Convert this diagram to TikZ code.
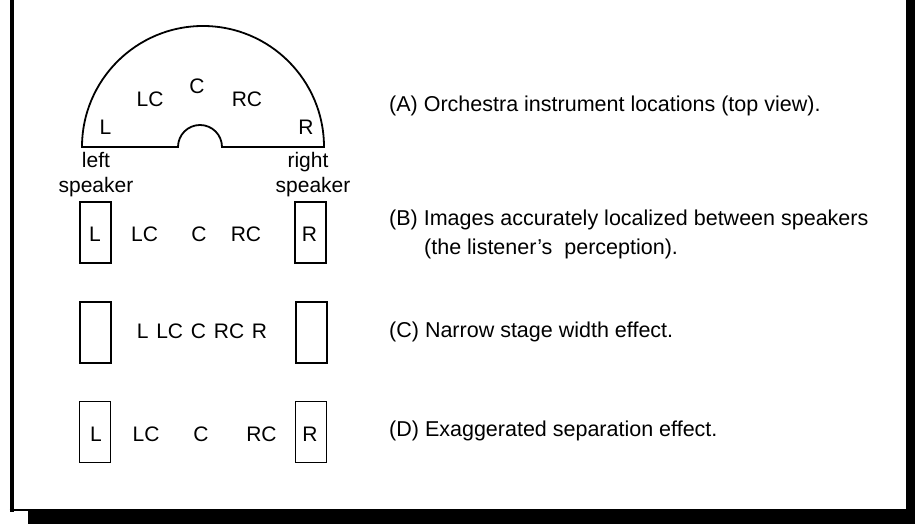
\documentclass[tikz,border=0pt]{standalone}
\usepackage{fontspec}
\setmainfont{Liberation Sans}
\begin{document}
\begin{tikzpicture}[x=1pt,y=1pt,
  lbl/.style={inner sep=0pt,anchor=base,font=\fontsize{21}{25}\selectfont},
  capt/.style={inner sep=0pt,anchor=base west,font=\fontsize{21.5}{26}\selectfont},
  spkbox/.style={draw,line width=1.6pt,inner sep=0pt,minimum width=31pt,minimum height=61pt},
  stage/.style={line width=1.8pt}]
\useasboundingbox (0,0) rectangle (915,524);
% frame and shadow
\fill (906,0) rectangle (915,524);
\fill (28,0) rectangle (915,13);
\draw[line width=4pt] (11.5,524) -- (11.5,12);
\draw[line width=2.2pt] (9.5,14) -- (906,14);
% (A) stage
\draw[stage] (82,377) arc[start angle=180,end angle=0,radius=121] -- (222,377)
  arc[start angle=0,end angle=180,radius=22] -- cycle;
\node[lbl] (aL) at (105.5,389) {L};
\node[lbl] (aLC) at (150,417) {LC};
\node[lbl] (aC) at (197,430) {C};
\node[lbl] (aRC) at (247,417) {RC};
\node[lbl] (aR) at (306,389) {R};
\node[lbl] (left) at (96,356) {left};
\node[lbl] (lspk) at (96,331) {speaker};
\node[lbl] (right) at (308,356) {right};
\node[lbl] (rspk) at (313,331) {speaker};
% (B)
\node[spkbox] (bLbox) at (95.5,291.5) {};
\node[spkbox] (bRbox) at (310.5,291.5) {};
\node[lbl] (bL) at (95,282) {L};
\node[lbl] (bLC) at (144.5,282) {LC};
\node[lbl] (bC) at (199,282) {C};
\node[lbl] (bRC) at (246,282) {RC};
\node[lbl] (bR) at (309.5,282) {R};
% (C)
\node[spkbox] (cLbox) at (95.5,191.5) {};
\node[spkbox] (cRbox) at (311.5,191.5) {};
\node[lbl] (cTxt) at (202,185) {\spaceskip=7.8pt L LC C RC R};
% (D)
\node[spkbox] (dLbox) at (95,92) {};
\node[spkbox] (dRbox) at (311,92) {};
\node[lbl] (dL) at (96,82) {L};
\node[lbl] (dLC) at (146,82) {LC};
\node[lbl] (dC) at (201,82) {C};
\node[lbl] (dRC) at (261.5,82) {RC};
\node[lbl] (dR) at (310,82) {R};
% captions
\node[capt] (capA) at (389,412) {(A) Orchestra instrument locations (top view).};
\node[capt] (capB1) at (389,298) {(B) Images accurately localized between speakers};
\node[capt] (capB2) at (424,269) {(the listener’s\ \ perception).};
\node[capt] (capC) at (389,186) {(C) Narrow stage width effect.};
\node[capt] (capD) at (389,87) {(D) Exaggerated separation effect.};
\end{tikzpicture}
\end{document}
